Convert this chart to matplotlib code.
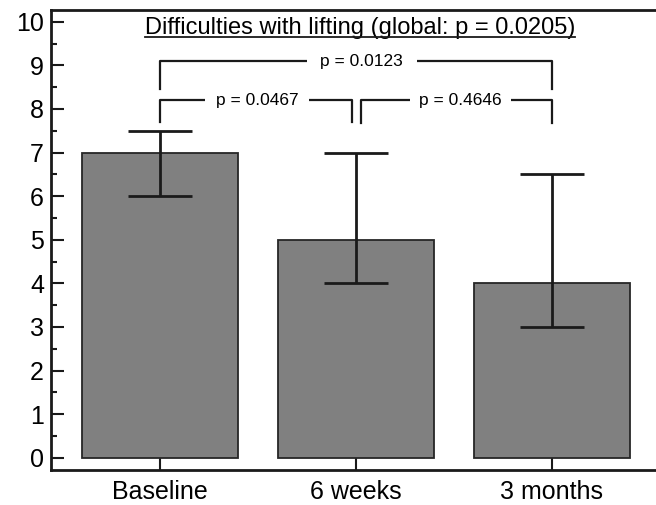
import matplotlib
matplotlib.use('Agg')
import matplotlib.pyplot as plt
from matplotlib.ticker import MultipleLocator
from matplotlib.lines import Line2D
from matplotlib.transforms import blended_transform_factory

plt.rcParams['font.family'] = ['Liberation Sans', 'DejaVu Sans']

groups = ['Baseline', '6 weeks', '3 months']
medians = [7, 5, 4]
lower = [6, 4, 3]
upper = [7.5, 7, 6.5]
title = 'Difficulties with lifting (global: p = 0.0205)'
pair_left = [0, 0, 1]
pair_right = [2, 1, 2]
p_labels = ['p = 0.0123', 'p = 0.0467', 'p = 0.4646']

fig = plt.figure(figsize=(6.56, 5.05), dpi=100)
ax = fig.add_axes([51 / 656, 35 / 505, 618.6 / 656, 460 / 505])

x = list(range(len(groups)))
ax.bar(x, medians, width=0.8, color='#808080', edgecolor='#262626', linewidth=1.3, zorder=2)
yerr = [[m - l for m, l in zip(medians, lower)], [u - m for m, u in zip(medians, upper)]]
ax.errorbar(x, medians, yerr=yerr, fmt='none', ecolor='#1a1a1a', elinewidth=2,
            capsize=23, capthick=2, zorder=3)

# significance brackets
levels = [9.1, 8.2, 8.2]
legs = [8.45, 7.7, 7.68]
text_shift = [0.03, 0.005, 0.02]
pads = [0.8, 0.6, 0.55]
for i, lab in enumerate(p_labels):
    x1 = pair_left[i]
    x2 = pair_right[i]
    if i == 1:
        x2 -= 0.02
    if i == 2:
        x1 += 0.025
    h = levels[i]
    ax.plot([x1, x1, x2, x2], [legs[i], h, h, legs[i]], color='#1a1a1a', lw=1.6, zorder=3)
    ax.text((x1 + x2) / 2 + text_shift[i], h, lab, ha='center', va='center', fontsize=12.5,
            zorder=4, bbox=dict(boxstyle='square,pad=%s' % pads[i], fc='white', ec='none'))

ax.set_xlim(-0.556, 2.6)
ax.set_ylim(-0.28, 10.27)
ax.set_yticks(range(0, 11))
ax.yaxis.set_minor_locator(MultipleLocator(0.5))
ax.set_xticks(x)
ax.set_xticklabels(groups)
ax.tick_params(axis='both', which='major', direction='in', length=9, width=1.5,
               labelsize=18, color='#1a1a1a')
ax.tick_params(axis='y', which='minor', direction='in', length=4.5, width=1.5, color='#1a1a1a')
ax.tick_params(axis='y', pad=5)
ax.tick_params(axis='x', pad=7)
for s in ax.spines.values():
    s.set_linewidth(2)
    s.set_color('#1a1a1a')

t = ax.text(0.5, 9.71, title, transform=blended_transform_factory(ax.transAxes, ax.transData),
            ha='center', va='baseline', fontsize=17, zorder=4)

fig.canvas.draw()
bb = t.get_window_extent().transformed(fig.transFigure.inverted())
uy = bb.y0 + 2.0 / 505
fig.add_artist(Line2D([bb.x0, bb.x1], [uy, uy], color='#1a1a1a', lw=1.3))

fig.savefig('out.png', dpi=100)
